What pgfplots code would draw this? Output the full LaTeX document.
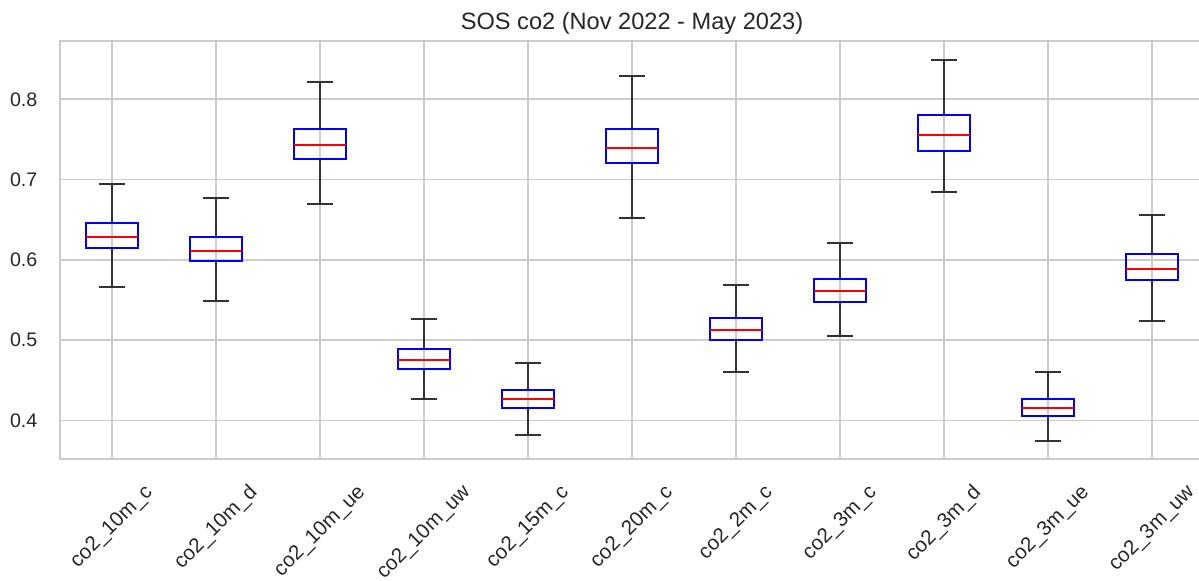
\documentclass[border=0pt]{standalone}
\usepackage{graphicx}
\usepackage{fontspec}
\setmainfont{Liberation Sans}
\usepackage{pgfplots}
\pgfplotsset{compat=1.18}
\usepgfplotslibrary{statistics}
\definecolor{txt}{HTML}{262626}
\definecolor{gridc}{HTML}{CCCCCC}
\begin{document}
\begin{tikzpicture}
\useasboundingbox (0,0) rectangle (599.5pt,290pt);
\begin{axis}[
  at={(30pt,60.5pt)}, anchor=south west,
  width=572pt, height=209pt, scale only axis,
  xmin=0.5, xmax=11.5, ymin=0.352, ymax=0.8726,
  xtick={1,2,3,4,5,6,7,8,9,10,11},
  xticklabels={
    \rotatebox{45}{co2\_10m\_c},
    \rotatebox{45}{co2\_10m\_d},
    \rotatebox{45}{co2\_10m\_ue},
    \rotatebox{45}{co2\_10m\_uw},
    \rotatebox{45}{co2\_15m\_c},
    \rotatebox{45}{co2\_20m\_c},
    \rotatebox{45}{co2\_2m\_c},
    \rotatebox{45}{co2\_3m\_c},
    \rotatebox{45}{co2\_3m\_d},
    \rotatebox{45}{co2\_3m\_ue},
    \rotatebox{45}{co2\_3m\_uw}},
  ytick={0.4,0.5,0.6,0.7,0.8},
  /pgf/number format/fixed,
  /pgf/number format/fixed zerofill,
  /pgf/number format/precision=1,
  /pgf/number format/assume math mode=true,
  yticklabel style={xshift=-7.8pt, font=\fontsize{9.8}{11}\selectfont, text=txt},
  xticklabel style={anchor=north, yshift=-8.4pt, font=\fontsize{10.3}{12}\selectfont, text=txt},
  major tick length=0pt,
  grid=major,
  major grid style={draw=gridc, line width=0.85pt},
  axis line style={draw=gridc, line width=1.3pt},
  title={SOS co2 (Nov 2022 - May 2023)},
  title style={anchor=base, font=\fontsize{11.8}{13}\selectfont, text=txt},
  boxplot/draw direction=y,
  boxplot/box extend=0.5,
  boxplot/whisker extend=0.25,
  boxplot/every box/.append style={draw=blue, line width=1pt},
  boxplot/every whisker/.append style={draw=black!80, line width=1pt},
  boxplot/every median/.append style={draw=red, line width=1pt},
]
\addplot[boxplot prepared={draw position=1, lower whisker=0.5666, lower quartile=0.6152, median=0.6289, upper quartile=0.6463, upper whisker=0.6945}] coordinates {};
\addplot[boxplot prepared={draw position=2, lower whisker=0.5492, lower quartile=0.5982, median=0.6115, upper quartile=0.6285, upper whisker=0.6775}] coordinates {};
\addplot[boxplot prepared={draw position=3, lower whisker=0.6696, lower quartile=0.7260, median=0.7435, upper quartile=0.7626, upper whisker=0.8212}] coordinates {};
\addplot[boxplot prepared={draw position=4, lower whisker=0.4268, lower quartile=0.4638, median=0.4753, upper quartile=0.4887, upper whisker=0.5260}] coordinates {};
\addplot[boxplot prepared={draw position=5, lower whisker=0.3820, lower quartile=0.4152, median=0.4268, upper quartile=0.4384, upper whisker=0.4716}] coordinates {};
\addplot[boxplot prepared={draw position=6, lower whisker=0.6522, lower quartile=0.7203, median=0.7397, upper quartile=0.7626, upper whisker=0.8290}] coordinates {};
\addplot[boxplot prepared={draw position=7, lower whisker=0.4600, lower quartile=0.5006, median=0.5123, upper quartile=0.5280, upper whisker=0.5682}] coordinates {};
\addplot[boxplot prepared={draw position=8, lower whisker=0.5049, lower quartile=0.5472, median=0.5609, upper quartile=0.5766, upper whisker=0.6214}] coordinates {};
\addplot[boxplot prepared={draw position=9, lower whisker=0.6849, lower quartile=0.7360, median=0.7552, upper quartile=0.7801, upper whisker=0.8486}] coordinates {};
\addplot[boxplot prepared={draw position=10, lower whisker=0.3745, lower quartile=0.4052, median=0.4152, upper quartile=0.4268, upper whisker=0.4600}] coordinates {};
\addplot[boxplot prepared={draw position=11, lower whisker=0.5239, lower quartile=0.5750, median=0.5883, upper quartile=0.6073, upper whisker=0.6563}] coordinates {};
\end{axis}
\end{tikzpicture}
\end{document}
